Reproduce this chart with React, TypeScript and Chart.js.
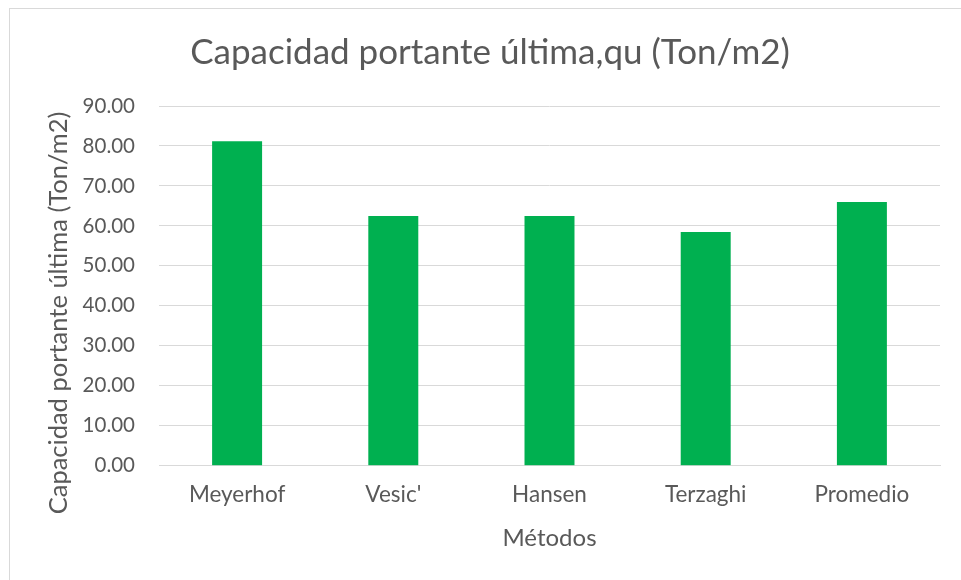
import React, { useEffect, useRef } from "react";
import { Chart, registerables } from "chart.js";

Chart.register(...registerables);

const categories = ["Meyerhof", "Vesic'", "Hansen", "Terzaghi", "Promedio"];
const values = [81.2, 62.5, 62.5, 58.5, 66.0];
const chartTitle = "Capacidad portante última,qu (Ton/m2)";
const yAxisTitle = "Capacidad portante última (Ton/m2)";
const xAxisTitle = "Métodos";

const FONT = "Lato, 'Open Sans', sans-serif";
const TEXT = "#595959";
const GRID = "#d9d9d9";
const BAR = "#00B050";

const yTitlePlugin = {
  id: "yTitleCustom",
  afterDraw(chart: any) {
    const ctx = chart.ctx;
    ctx.save();
    ctx.translate(59, 313);
    ctx.rotate(-Math.PI / 2);
    ctx.font = `25.5px ${FONT}`;
    ctx.fillStyle = TEXT;
    ctx.textAlign = "center";
    ctx.textBaseline = "middle";
    ctx.fillText(yAxisTitle, 0, 0);
    ctx.restore();
  },
};

export default function App() {
  const ref = useRef<HTMLCanvasElement | null>(null);
  useEffect(() => {
    if (!ref.current) return;
    const chart = new Chart(ref.current, {
      type: "bar",
      data: {
        labels: categories,
        datasets: [
          {
            data: values,
            backgroundColor: BAR,
            borderWidth: 0,
            barPercentage: 0.32,
            categoryPercentage: 1.0,
          },
        ],
      },
      plugins: [yTitlePlugin],
      options: {
        responsive: false,
        animation: false,
        devicePixelRatio: 1,
        layout: { padding: { left: 40, right: 21, top: 0, bottom: 0 } },
        plugins: {
          legend: { display: false },
          tooltip: { enabled: false },
          title: {
            display: true,
            text: chartTitle,
            color: TEXT,
            font: { family: FONT, size: 35, weight: "normal", lineHeight: 1.2 },
            padding: { top: 32, bottom: 32 },
          },
        },
        scales: {
          x: {
            grid: { display: false, drawTicks: false },
            border: { display: true, color: GRID, width: 1 },
            ticks: {
              color: TEXT,
              font: { family: FONT, size: 22.5, lineHeight: 1.2 },
              padding: 15.8,
            },
            title: {
              display: true,
              text: xAxisTitle,
              color: TEXT,
              font: { family: FONT, size: 24, lineHeight: 1.2 },
              padding: { top: 0, bottom: 27.6 },
            },
            afterFit: (scale: any) => {
              scale.height = 114.3;
            },
          },
          y: {
            min: 0,
            max: 90,
            grid: { color: GRID, drawTicks: false, lineWidth: 1 },
            border: { display: false },
            ticks: {
              stepSize: 10,
              color: TEXT,
              font: { family: FONT, size: 20.5, lineHeight: 1.2 },
              padding: 24,
              callback: (v: any) => Number(v).toFixed(2),
            },
            afterFit: (scale: any) => {
              scale.width = 119;
            },
          },
        },
      },
    });
    return () => chart.destroy();
  }, []);

  return (
    <div style={{ position: "absolute", left: 0, top: 0, width: 961, height: 580, background: "#fff", overflow: "hidden" }}>
      <div
        style={{
          position: "absolute",
          left: 9,
          top: 8,
          right: -2,
          bottom: -2,
          borderTop: `1px solid ${GRID}`,
          borderLeft: `1px solid ${GRID}`,
        }}
      />
      <canvas ref={ref} width={961} height={580} style={{ position: "absolute", left: 0, top: 0 }} />
    </div>
  );
}
